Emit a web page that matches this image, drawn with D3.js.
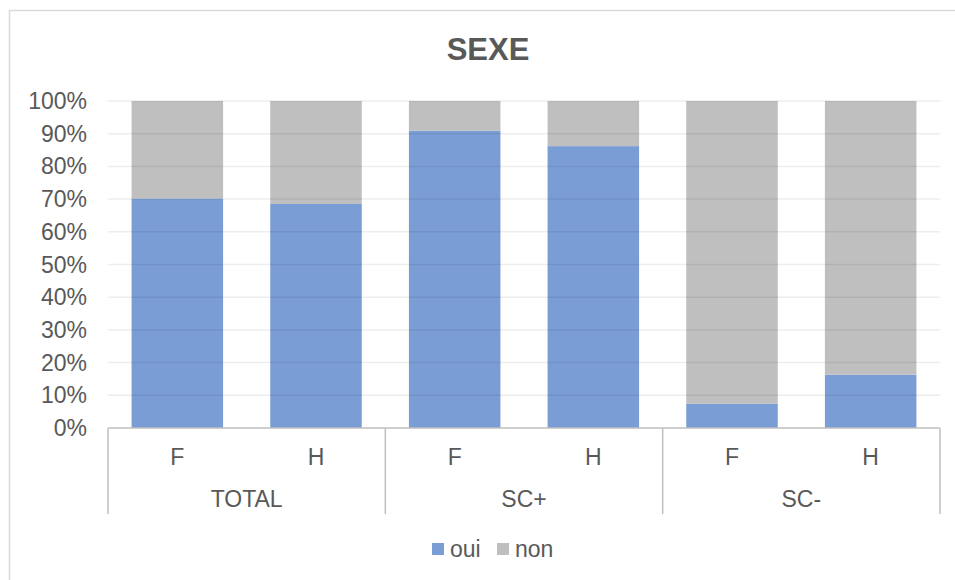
<html><head>
<script src="https://d3js.org/d3.v7.min.js"></script>
<style>
  body { margin: 0; background: #fff; }
  text { font-family: "Liberation Sans", Arial, sans-serif; fill: #595959; }
</style>
</head>
<body>
<svg id="chart" width="955" height="580"></svg>
<script>
  // data
  const groups = ["TOTAL", "SC+", "SC-"];
  const sexes = ["F", "H"];
  const oui = [70.2, 68.5, 90.9, 86.2, 7.4, 16.3];
  const non = [29.8, 31.5, 9.1, 13.8, 92.6, 83.7];
  const yTicks = [0, 10, 20, 30, 40, 50, 60, 70, 80, 90, 100];
  const seriesNames = ["oui", "non"];
  const colors = ["#7b9dd6", "#bfbfbf"];

  const svg = d3.select("#chart");
  const margin = { top: 101, right: 15, bottom: 152, left: 108 };
  const width = +svg.attr("width");
  const height = +svg.attr("height");
  const plotW = width - margin.left - margin.right;
  const plotH = height - margin.top - margin.bottom;

  // outer frame
  svg.append("rect")
     .attr("x", 9.5).attr("y", 10.5)
     .attr("width", 1000).attr("height", 1000)
     .attr("fill", "none").attr("stroke", "#d9d9d9").attr("stroke-width", 1.5);

  svg.append("text")
     .attr("x", 488).attr("y", 60)
     .attr("text-anchor", "middle")
     .attr("font-size", 31).attr("font-weight", "bold")
     .text("SEXE");

  const g = svg.append("g").attr("transform", "translate(" + margin.left + "," + margin.top + ")");

  // one band per bar
  const rows = [];
  groups.forEach((grp, i) => sexes.forEach((s, j) => {
    const k = i * sexes.length + j;
    rows.push({ key: grp + "|" + s, group: grp, sex: s, oui: oui[k], non: non[k] });
  }));

  const x = d3.scaleBand().domain(rows.map(d => d.key)).range([0, plotW])
              .paddingInner(0.34).paddingOuter(0.17);
  const y = d3.scaleLinear().domain([0, 100]).range([plotH, 0]);

  const stacked = d3.stack().keys(seriesNames)(rows);

  g.selectAll("g.series").data(stacked).join("g")
    .attr("class", "series")
    .attr("fill", (d, i) => colors[i])
    .selectAll("rect").data(d => d).join("rect")
      .attr("x", d => x(d.data.key))
      .attr("width", x.bandwidth())
      .attr("y", d => y(d[1]))
      .attr("height", d => y(d[0]) - y(d[1]));

  // gridlines (slightly visible through the bars)
  g.selectAll("line.grid").data(yTicks.filter(t => t > 0)).join("line")
    .attr("class", "grid")
    .attr("x1", 0).attr("x2", plotW)
    .attr("y1", d => y(d)).attr("y2", d => y(d))
    .attr("stroke", "#000").attr("stroke-opacity", 0.07).attr("stroke-width", 1.5);

  // y labels
  g.selectAll("text.ytick").data(yTicks).join("text")
    .attr("class", "ytick")
    .attr("x", -21).attr("y", d => y(d))
    .attr("dy", "0.35em")
    .attr("text-anchor", "end")
    .attr("font-size", 23)
    .text(d => d + "%");

  // x axis line
  g.append("line")
    .attr("x1", 0).attr("x2", plotW)
    .attr("y1", plotH).attr("y2", plotH)
    .attr("stroke", "#bfbfbf").attr("stroke-width", 1.5);

  // group separators
  const groupW = plotW / groups.length;
  g.selectAll("line.sep").data(d3.range(groups.length + 1)).join("line")
    .attr("class", "sep")
    .attr("x1", d => d * groupW).attr("x2", d => d * groupW)
    .attr("y1", plotH).attr("y2", plotH + 86)
    .attr("stroke", "#bfbfbf").attr("stroke-width", 1.5);

  // sex labels
  g.selectAll("text.sex").data(rows).join("text")
    .attr("class", "sex")
    .attr("x", d => x(d.key) + x.bandwidth() / 2)
    .attr("y", plotH + 37)
    .attr("text-anchor", "middle")
    .attr("font-size", 23)
    .text(d => d.sex);

  // group labels
  g.selectAll("text.grp").data(groups).join("text")
    .attr("class", "grp")
    .attr("x", (d, i) => (i + 0.5) * groupW)
    .attr("y", plotH + 79)
    .attr("text-anchor", "middle")
    .attr("font-size", 23)
    .text(d => d);

  // legend
  const legend = svg.append("g");
  const legX = [432, 497];
  seriesNames.forEach((name, i) => {
    legend.append("rect")
      .attr("x", legX[i]).attr("y", 543)
      .attr("width", 12).attr("height", 12)
      .attr("fill", colors[i]);
    legend.append("text")
      .attr("x", legX[i] + 18).attr("y", 557)
      .attr("font-size", 23)
      .text(name);
  });
</script>
</body>
</html>
